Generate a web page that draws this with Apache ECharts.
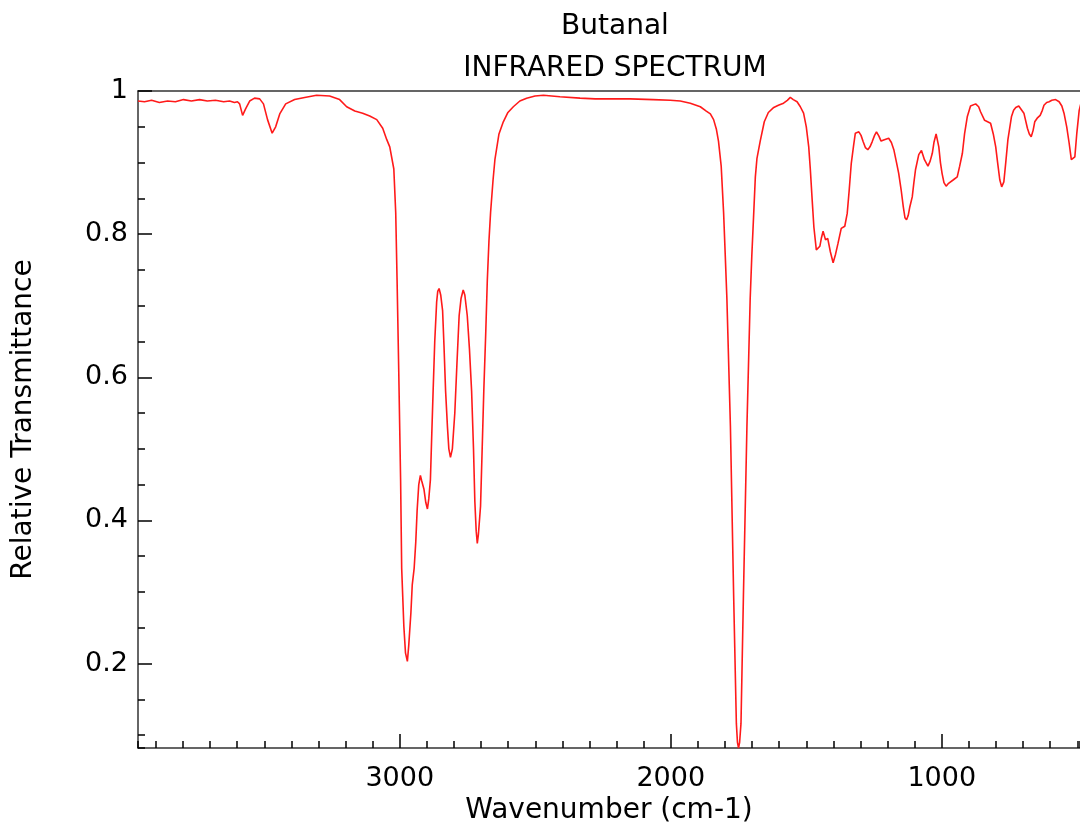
<!DOCTYPE html>
<html>
<head>
<meta charset="utf-8">
<script src="https://cdn.jsdelivr.net/npm/echarts@6/dist/echarts.min.js"></script>
<style>
  html, body { margin: 0; padding: 0; background: #fff; }
  #box1 { width: 1080px; height: 823px; }
</style>
</head>
<body>
<div id="box1"></div>
<script>
// wavenumber (cm-1) from left to right
var wavenumbers = [
  3966, 3942, 3916, 3887, 3857, 3828, 3798, 3769, 3739, 3710, 3680, 3650, 3628, 3610, 3599,
  3591, 3580, 3569, 3554, 3536, 3517, 3503, 3488, 3471, 3458, 3443, 3421, 3388, 3351, 3307,
  3259, 3222, 3196, 3166, 3137, 3111, 3085, 3063, 3048, 3037, 3022, 3015, 3010, 3004, 2997,
  2993, 2985, 2979, 2972, 2967, 2959, 2954, 2947, 2941, 2936, 2930, 2924, 2919, 2911, 2904,
  2898, 2893, 2887, 2882, 2877, 2871, 2864, 2860, 2855, 2849, 2842, 2837, 2831, 2824, 2819,
  2813, 2806, 2797, 2789, 2781, 2774, 2766, 2760, 2751, 2743, 2735, 2728, 2723, 2718, 2714,
  2710, 2702, 2696, 2690, 2683, 2677, 2671, 2665, 2656, 2649, 2634, 2618, 2601, 2581, 2557,
  2532, 2501, 2470, 2409, 2335, 2279, 2213, 2150, 2065, 2002, 1965, 1928, 1891, 1869, 1854,
  1842, 1832, 1824, 1814, 1805, 1799, 1793, 1780, 1768, 1758, 1754, 1750, 1746, 1741, 1732,
  1719, 1707, 1701, 1694, 1688, 1682, 1670, 1655, 1640, 1620, 1603, 1584, 1570, 1559, 1548,
  1534, 1522, 1510, 1500, 1491, 1485, 1479, 1472, 1463, 1456, 1450, 1444, 1438, 1429, 1421,
  1411, 1401, 1392, 1383, 1371, 1358, 1349, 1342, 1334, 1325, 1319, 1306, 1298, 1290, 1282,
  1273, 1265, 1257, 1248, 1241, 1232, 1224, 1212, 1196, 1186, 1177, 1167, 1159, 1150, 1142,
  1136, 1130, 1124, 1118, 1109, 1103, 1097, 1085, 1075, 1064, 1051, 1043, 1035, 1029, 1021,
  1011, 1005, 999, 992, 984, 975, 968, 957, 943, 934, 924, 916, 906, 894, 875,
  864, 857, 842, 831, 820, 810, 801, 794, 786, 779, 771, 764, 756, 743, 735,
  727, 716, 709, 697, 684, 677, 670, 663, 657, 648, 637, 629, 623, 613, 604,
  594, 588, 580, 567, 557, 549, 539, 530, 522, 515, 509, 502, 493, 487, 480
];

// relative transmittance at each wavenumber
var transmittance = [
  0.986, 0.985, 0.987, 0.984, 0.986, 0.985, 0.988, 0.986, 0.988, 0.986, 0.987, 0.985, 0.986, 0.984, 0.985,
  0.982, 0.966, 0.975, 0.986, 0.990, 0.989, 0.982, 0.960, 0.941, 0.950, 0.968, 0.982, 0.988, 0.991, 0.994,
  0.993, 0.988, 0.978, 0.972, 0.969, 0.965, 0.960, 0.948, 0.932, 0.922, 0.891, 0.830, 0.736, 0.612, 0.457,
  0.333, 0.252, 0.215, 0.203, 0.225, 0.271, 0.310, 0.333, 0.370, 0.414, 0.450, 0.463, 0.455, 0.444, 0.425,
  0.416, 0.430, 0.457, 0.520, 0.581, 0.650, 0.705, 0.720, 0.724, 0.715, 0.693, 0.645, 0.581, 0.530, 0.500,
  0.488, 0.500, 0.550, 0.620, 0.686, 0.710, 0.722, 0.715, 0.686, 0.640, 0.581, 0.500, 0.426, 0.385, 0.368,
  0.380, 0.420, 0.500, 0.581, 0.660, 0.736, 0.790, 0.830, 0.875, 0.904, 0.940, 0.957, 0.970, 0.978, 0.986,
  0.990, 0.993, 0.994, 0.992, 0.990, 0.989, 0.989, 0.989, 0.988, 0.987, 0.986, 0.983, 0.978, 0.972, 0.968,
  0.960, 0.947, 0.930, 0.895, 0.829, 0.770, 0.710, 0.532, 0.294, 0.116, 0.090, 0.082, 0.090, 0.116, 0.294,
  0.532, 0.710, 0.770, 0.829, 0.880, 0.906, 0.930, 0.957, 0.970, 0.977, 0.980, 0.983, 0.987, 0.991, 0.988,
  0.985, 0.978, 0.969, 0.950, 0.922, 0.890, 0.852, 0.810, 0.778, 0.779, 0.783, 0.795, 0.804, 0.792, 0.794,
  0.775, 0.760, 0.772, 0.787, 0.808, 0.811, 0.829, 0.860, 0.899, 0.925, 0.941, 0.943, 0.938, 0.929, 0.921,
  0.918, 0.922, 0.929, 0.938, 0.943, 0.937, 0.930, 0.932, 0.934, 0.928, 0.918, 0.900, 0.885, 0.862, 0.838,
  0.823, 0.820, 0.826, 0.838, 0.852, 0.872, 0.890, 0.911, 0.917, 0.904, 0.895, 0.902, 0.913, 0.928, 0.940,
  0.922, 0.900, 0.885, 0.872, 0.867, 0.871, 0.873, 0.876, 0.880, 0.895, 0.913, 0.940, 0.964, 0.979, 0.982,
  0.978, 0.971, 0.959, 0.957, 0.955, 0.940, 0.922, 0.900, 0.876, 0.866, 0.873, 0.900, 0.932, 0.964, 0.973,
  0.977, 0.979, 0.980, 0.969, 0.948, 0.940, 0.936, 0.945, 0.957, 0.962, 0.966, 0.973, 0.980, 0.984, 0.985,
  0.987, 0.989, 0.988, 0.985, 0.979, 0.969, 0.950, 0.927, 0.904, 0.905, 0.908, 0.940, 0.973, 0.982, 0.985
];

var xRange = [490, 3966];
var yRange = [0.082, 1];

var chartDom = document.getElementById('box1');
var myChart = echarts.init(chartDom, null, { renderer: 'canvas' });

var spectrum = wavenumbers.map(function (w, i) {
    return [w, transmittance[i]];
});

var fontName = 'DejaVu Sans';
var axisColor = '#333';

var option = {
    animation: false,
    backgroundColor: '#fff',
    textStyle: { fontFamily: fontName },
    title: [
        {
            text: 'Butanal',
            left: 610,
            top: 8,
            textAlign: 'center',
            textStyle: { fontFamily: fontName, fontSize: 28, fontWeight: 'normal', color: '#000' }
        },
        {
            text: 'INFRARED SPECTRUM',
            left: 610,
            top: 50,
            textAlign: 'center',
            textStyle: { fontFamily: fontName, fontSize: 28, fontWeight: 'normal', color: '#000' }
        }
    ],
    grid: {
        left: 138,
        right: 0,
        top: 91,
        bottom: 75,
        show: false,
        outerBoundsMode: 'none',
        containLabel: false
    },
    xAxis: [
        {
            // major ticks + labels
            type: 'value',
            position: 'bottom',
            inverse: true,
            min: xRange[0],
            max: xRange[1],
            splitNumber: 4,
            name: 'Wavenumber (cm-1)',
            nameLocation: 'middle',
            nameGap: 47,
            nameTextStyle: { fontFamily: fontName, fontSize: 28, color: '#000' },
            axisLine: { show: true, lineStyle: { color: axisColor, width: 1.5 } },
            axisTick: { show: true, inside: true, length: 14, lineStyle: { color: '#000', width: 1.5 } },
            axisLabel: {
                fontFamily: fontName, fontSize: 27, color: '#000', margin: 17,
                showMinLabel: false, showMaxLabel: false,
                formatter: function (v) { return v % 1000 === 0 ? String(v) : ''; }
            },
            splitLine: { show: false }
        },
        {
            // minor ticks every 100
            type: 'value',
            position: 'bottom',
            inverse: true,
            min: xRange[0],
            max: xRange[1],
            splitNumber: 35,
            axisLine: { show: false },
            axisTick: { show: true, inside: true, length: 7, lineStyle: { color: '#000', width: 1.5 } },
            axisLabel: { show: false },
            splitLine: { show: false }
        },
        {
            // top spine only
            type: 'value',
            position: 'top',
            inverse: true,
            min: xRange[0],
            max: xRange[1],
            axisLine: { show: true, lineStyle: { color: axisColor, width: 1.5 } },
            axisTick: { show: false },
            axisLabel: { show: false },
            splitLine: { show: false }
        }
    ],
    yAxis: [
        {
            type: 'value',
            position: 'left',
            min: yRange[0],
            max: yRange[1],
            splitNumber: 5,
            name: 'Relative Transmittance',
            nameLocation: 'middle',
            nameGap: 100,
            nameTextStyle: { fontFamily: fontName, fontSize: 28, color: '#000' },
            axisLine: { show: true, lineStyle: { color: axisColor, width: 1.5 } },
            axisTick: { show: true, inside: true, length: 14, lineStyle: { color: '#000', width: 1.5 } },
            axisLabel: {
                fontFamily: fontName, fontSize: 27, color: '#000', margin: 10,
                showMinLabel: false,
                formatter: function (v) {
                    var r = Math.round(v * 10) / 10;
                    return Math.abs(r - v) < 1e-6 ? String(r) : '';
                }
            },
            splitLine: { show: false }
        },
        {
            type: 'value',
            position: 'left',
            min: yRange[0],
            max: yRange[1],
            splitNumber: 18,
            axisLine: { show: false },
            axisTick: { show: true, inside: true, length: 7, lineStyle: { color: '#000', width: 1.5 } },
            axisLabel: { show: false },
            splitLine: { show: false }
        }
    ],
    series: [{
        name: 'Butanal',
        type: 'line',
        xAxisIndex: 0,
        yAxisIndex: 0,
        data: spectrum,
        showSymbol: false,
        symbol: 'none',
        smooth: false,
        clip: true,
        lineStyle: { color: '#ff1a1a', width: 1.6 }
    }]
};

myChart.setOption(option);
</script>
</body>
</html>
